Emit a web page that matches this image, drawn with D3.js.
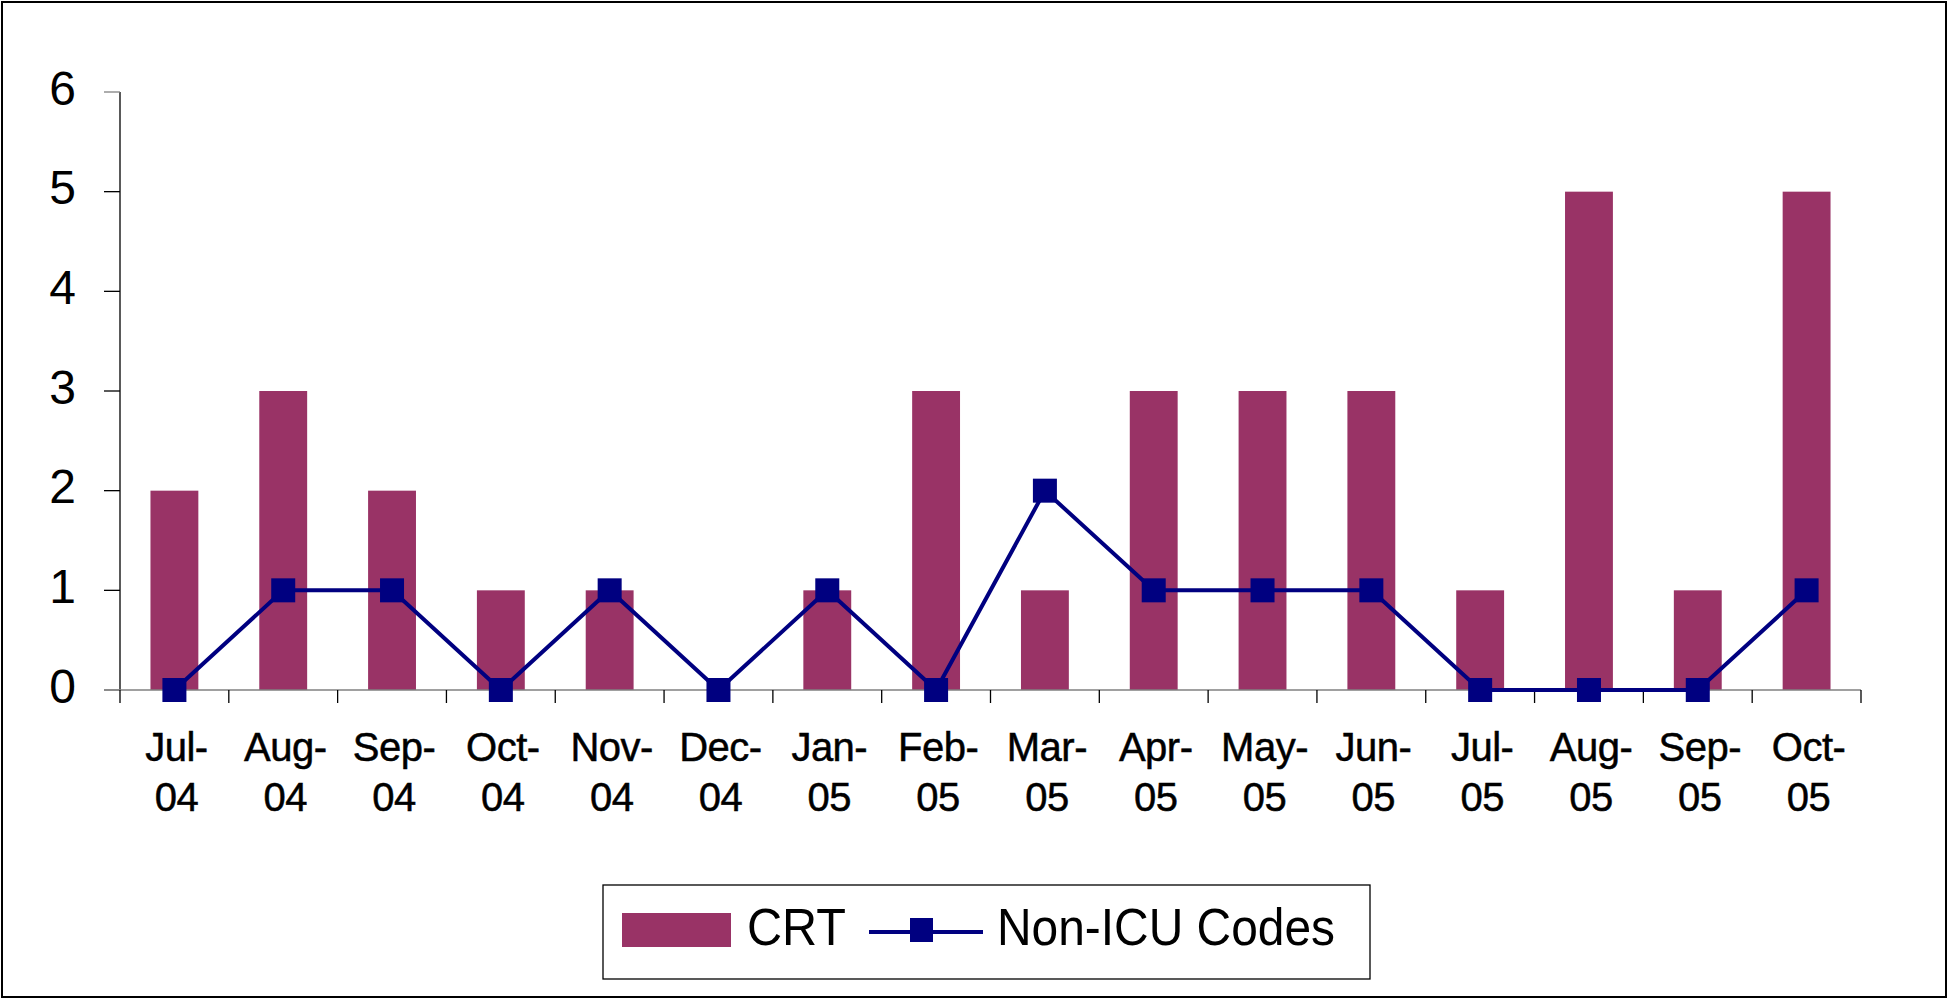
<!DOCTYPE html>
<html>
<head>
<meta charset="utf-8">
<script src="https://cdn.jsdelivr.net/npm/d3@7"></script>
<style>
  html, body { margin: 0; padding: 0; background: #fff; }
  svg { display: block; }
  text { font-family: "Liberation Sans", Arial, sans-serif; fill: #000; }
</style>
</head>
<body>
<svg id="chart" width="1948" height="999"></svg>
<script>
// Data
const months = ["Jul-04", "Aug-04", "Sep-04", "Oct-04", "Nov-04", "Dec-04", "Jan-05", "Feb-05",
  "Mar-05", "Apr-05", "May-05", "Jun-05", "Jul-05", "Aug-05", "Sep-05", "Oct-05"];
const crt = [2, 3, 2, 1, 1, 0, 1, 3, 1, 3, 3, 3, 1, 5, 1, 5];
const nonIcu = [0, 1, 1, 0, 1, 0, 1, 0, 2, 1, 1, 1, 0, 0, 0, 1];
const yTicks = [0, 1, 2, 3, 4, 5, 6];
const seriesNames = ["CRT", "Non-ICU Codes"];

const barColor = "#993366";
const lineColor = "#000080";

const svg = d3.select("#chart");

// outer frame
svg.append("rect")
  .attr("x", 2).attr("y", 2)
  .attr("width", 1944).attr("height", 995)
  .attr("fill", "#fff")
  .attr("stroke", "#000")
  .attr("stroke-width", 2);

// scales
const x = d3.scaleBand().domain(months).range([120, 1861]).padding(0);
const y = d3.scaleLinear().domain([0, 6]).range([690, 92]);
const barW = x.bandwidth() * 0.44;

// y axis
const yAxis = svg.append("g");
yAxis.append("line")
  .attr("x1", 120).attr("x2", 120)
  .attr("y1", y(6)).attr("y2", y(0))
  .attr("stroke", "#000").attr("stroke-width", 1.3);
yAxis.selectAll(".ytick")
  .data(yTicks)
  .enter()
  .append("line")
  .attr("x1", 104).attr("x2", 120)
  .attr("y1", (d) => y(d)).attr("y2", (d) => y(d))
  .attr("stroke", (d) => (d === 0 || d === 6 ? "#808080" : "#000"))
  .attr("stroke-width", 1.3);
yAxis.selectAll(".ylabel")
  .data(yTicks)
  .enter()
  .append("text")
  .attr("x", 76)
  .attr("y", (d) => y(d) + 12.5)
  .attr("text-anchor", "end")
  .attr("font-size", 48)
  .text((d) => d);

// bars
svg.append("g")
  .selectAll("rect")
  .data(months.map((m, i) => ({ m, v: crt[i] })))
  .enter()
  .append("rect")
  .attr("x", (d) => x(d.m) + x.bandwidth() / 2 - barW / 2)
  .attr("y", (d) => y(d.v))
  .attr("width", barW)
  .attr("height", (d) => y(0) - y(d.v))
  .attr("fill", barColor);

// x axis
const xAxis = svg.append("g");
xAxis.append("line")
  .attr("x1", 104).attr("x2", 1861)
  .attr("y1", y(0)).attr("y2", y(0))
  .attr("stroke", "#808080").attr("stroke-width", 1.5);
const boundaries = months.map((m) => x(m)).concat([x.range()[1]]);
xAxis.selectAll(".xtick")
  .data(boundaries)
  .enter()
  .append("line")
  .attr("x1", (d) => d).attr("x2", (d) => d)
  .attr("y1", y(0)).attr("y2", y(0) + 13)
  .attr("stroke", "#000").attr("stroke-width", 1.3);
const xl = xAxis.selectAll(".xlabel")
  .data(months)
  .enter()
  .append("text")
  .attr("text-anchor", "middle")
  .attr("font-size", 40)
  .attr("letter-spacing", -0.5)
  .attr("stroke", "#000")
  .attr("stroke-width", 0.5);
xl.append("tspan")
  .attr("x", (d) => x(d) + x.bandwidth() / 2 + 2)
  .attr("y", 761)
  .text((d) => d.split("-")[0] + "-");
xl.append("tspan")
  .attr("x", (d) => x(d) + x.bandwidth() / 2 + 2)
  .attr("y", 811)
  .text((d) => d.split("-")[1]);

// line series
const line = d3.line()
  .x((d, i) => x(months[i]) + x.bandwidth() / 2)
  .y((d) => y(d));
svg.append("path")
  .datum(nonIcu)
  .attr("d", line)
  .attr("fill", "none")
  .attr("stroke", lineColor)
  .attr("stroke-width", 4);
svg.append("g")
  .selectAll("rect")
  .data(nonIcu)
  .enter()
  .append("rect")
  .attr("x", (d, i) => x(months[i]) + x.bandwidth() / 2 - 12)
  .attr("y", (d) => y(d) - 12)
  .attr("width", 24)
  .attr("height", 24)
  .attr("fill", lineColor);

// legend
const legend = svg.append("g");
legend.append("rect")
  .attr("x", 603).attr("y", 885)
  .attr("width", 767).attr("height", 94)
  .attr("fill", "#fff")
  .attr("stroke", "#000")
  .attr("stroke-width", 1.3);
legend.append("rect")
  .attr("x", 622).attr("y", 913)
  .attr("width", 109).attr("height", 34)
  .attr("fill", barColor);
legend.append("text")
  .attr("x", 747).attr("y", 945)
  .attr("font-size", 52)
  .attr("textLength", 99)
  .attr("lengthAdjust", "spacingAndGlyphs")
  .text(seriesNames[0]);
legend.append("line")
  .attr("x1", 869).attr("x2", 983)
  .attr("y1", 932).attr("y2", 932)
  .attr("stroke", lineColor)
  .attr("stroke-width", 4);
legend.append("rect")
  .attr("x", 910).attr("y", 918)
  .attr("width", 23).attr("height", 24)
  .attr("fill", lineColor);
legend.append("text")
  .attr("x", 997).attr("y", 945)
  .attr("font-size", 52)
  .attr("textLength", 338)
  .attr("lengthAdjust", "spacingAndGlyphs")
  .text(seriesNames[1]);
</script>
</body>
</html>
